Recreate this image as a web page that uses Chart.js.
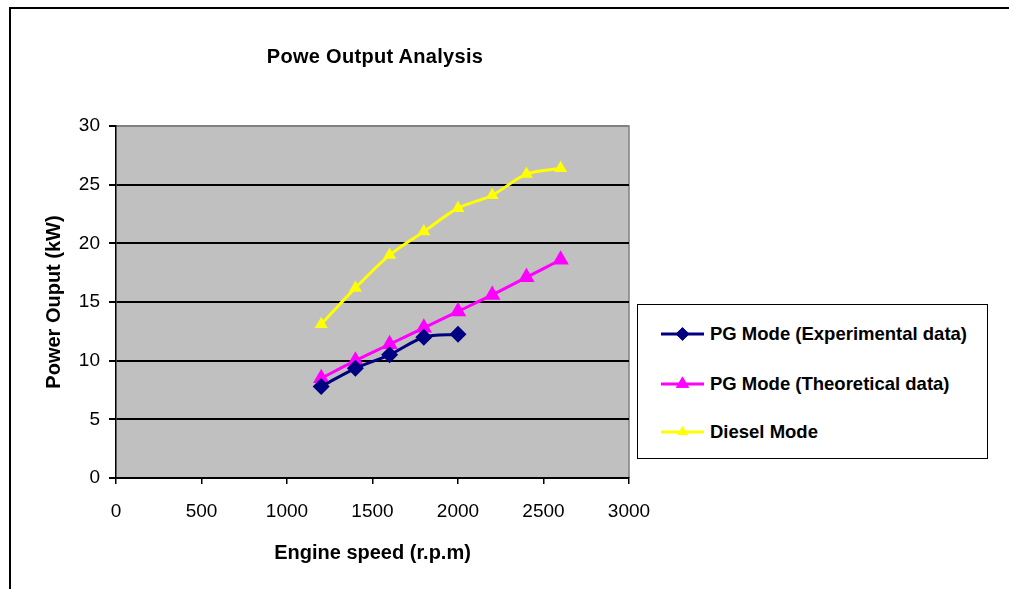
<!DOCTYPE html>
<html>
<head>
<meta charset="utf-8">
<script src="https://cdn.jsdelivr.net/npm/chart.js@4.4.1/dist/chart.umd.min.js"></script>
<style>
  body { margin: 0; background: #fff; font-family: "Liberation Sans", Arial, sans-serif; }
  #wrap { position: relative; width: 1009px; height: 589px; overflow: hidden; }
  #frame { position: absolute; left: 9px; top: 7px; width: 1100px; height: 700px; border: 2px solid #000; }
  #titulo { position: absolute; left: 175px; width: 400px; top: 45px; text-align: center; font-weight: bold; font-size: 20px; letter-spacing: 0.3px; }
  #leyenda { position: absolute; left: 637px; top: 304px; width: 349px; height: 153px; border: 1.5px solid #000; background: #fff; }
  .item { position: absolute; left: 23px; height: 20px; font-weight: bold; font-size: 18.5px; }
  .item canvas { position: absolute; left: 0; top: 0; }
  .item span { position: absolute; left: 49px; top: -1px; white-space: nowrap; }
  canvas#grafico { position: absolute; left: 0; top: 0; }
</style>
</head>
<body>
<div id="wrap">
  <div id="frame"></div>
  <canvas id="grafico" width="1009" height="589"></canvas>
  <div id="titulo">Powe Output Analysis</div>
  <div id="leyenda"></div>
</div>
<script>
const velocidad = [1200, 1400, 1600, 1800, 2000, 2200, 2400, 2600];
const pgExperimental = [7.8, 9.35, 10.5, 12.0, 12.25];
const pgTeorico = [8.5, 10.0, 11.4, 12.8, 14.2, 15.6, 17.1, 18.6];
const diesel = [13.1, 16.2, 19.0, 21.0, 23.0, 24.1, 25.9, 26.4];

const xTicks = [0, 500, 1000, 1500, 2000, 2500, 3000];
const yTicks = [0, 5, 10, 15, 20, 25, 30];

function puntos(valores) {
    return valores.map((v, i) => ({ x: velocidad[i], y: v }));
}

const series = [
    { label: 'PG Mode (Experimental data)', data: puntos(pgExperimental), color: '#000080', estilo: 'rectRot', radio: 8.5 },
    { label: 'PG Mode (Theoretical data)', data: puntos(pgTeorico), color: '#FF00FF', estilo: 'triangle', radio: 9.5 },
    { label: 'Diesel Mode', data: puntos(diesel), color: '#FFFF00', estilo: 'triangle', radio: 7.5 }
];

const fondoPlot = {
    id: 'fondoPlot',
    beforeDraw(chart) {
        const a = chart.chartArea;
        const ctx = chart.ctx;
        ctx.save();
        ctx.fillStyle = '#C0C0C0';
        ctx.fillRect(a.left, a.top, a.right - a.left, a.bottom - a.top);
        ctx.strokeStyle = '#808080';
        ctx.lineWidth = 1.5;
        ctx.beginPath();
        ctx.moveTo(a.left, a.top);
        ctx.lineTo(a.right, a.top);
        ctx.lineTo(a.right, a.bottom);
        ctx.stroke();
        ctx.restore();
    }
};

const fuenteTick = { family: 'Liberation Sans, Arial', size: 19 };
const fuenteTitulo = { family: 'Liberation Sans, Arial', size: 20, weight: 'bold' };

const ctx = document.getElementById('grafico').getContext('2d');
const chart = new Chart(ctx, {
    type: 'line',
    data: {
        datasets: series.map(s => ({
            label: s.label,
            data: s.data,
            borderColor: s.color,
            backgroundColor: s.color,
            borderWidth: 3,
            pointStyle: s.estilo,
            pointRadius: s.radio,
            pointHoverRadius: s.radio,
            pointBorderWidth: 0,
            tension: 0.3,
            fill: false
        }))
    },
    options: {
        responsive: false,
        animation: false,
        layout: { padding: { left: 40, top: 126, right: 380, bottom: 20 } },
        plugins: {
            legend: { display: false },
            tooltip: { enabled: false }
        },
        scales: {
            x: {
                type: 'linear',
                min: 0,
                max: 3000,
                afterFit: scale => { scale.height = 589 - 478 - 20; },
                afterBuildTicks: scale => { scale.ticks = xTicks.map(v => ({ value: v })); },
                grid: { drawOnChartArea: false, drawTicks: true, tickLength: 6, tickColor: '#000', color: '#000', lineWidth: 1.5 },
                border: { color: '#000', width: 1.5 },
                ticks: { color: '#000', font: fuenteTick, padding: 16, maxRotation: 0, callback: v => String(v) },
                title: { display: true, text: 'Engine speed (r.p.m)', color: '#000', font: fuenteTitulo, padding: { top: 4, bottom: 4 } }
            },
            y: {
                min: 0,
                max: 30,
                afterFit: scale => { scale.width = 116 - 40; },
                afterBuildTicks: scale => { scale.ticks = yTicks.map(v => ({ value: v })); },
                grid: {
                    color: c => (c.tick && c.tick.value === 30 ? '#808080' : '#000'),
                    tickColor: '#000',
                    lineWidth: 2,
                    tickLength: 7,
                    drawTicks: true
                },
                border: { color: '#000', width: 1.5 },
                ticks: { color: '#000', font: fuenteTick, padding: 9, callback: v => String(v) },
                title: { display: true, text: 'Power Ouput (kW)', color: '#000', font: fuenteTitulo, padding: { top: 2, bottom: 4 } }
            }
        }
    },
    plugins: [fondoPlot]
});

// leyenda hecha a mano
const leyenda = document.getElementById('leyenda');
const filas = [19, 69, 117];
series.forEach((s, i) => {
    const item = document.createElement('div');
    item.className = 'item';
    item.style.top = filas[i] + 'px';
    const c = document.createElement('canvas');
    c.width = 46;
    c.height = 20;
    const g = c.getContext('2d');
    g.strokeStyle = s.color;
    g.lineWidth = 3;
    g.beginPath();
    g.moveTo(0, 10);
    g.lineTo(43, 10);
    g.stroke();
    g.fillStyle = s.color;
    Chart.helpers.drawPoint(g, { pointStyle: s.estilo, radius: s.radio * 0.8, borderWidth: 0 }, 21.5, 10);
    g.fill();
    item.appendChild(c);
    const t = document.createElement('span');
    t.textContent = s.label;
    item.appendChild(t);
    leyenda.appendChild(item);
});
</script>
</body>
</html>
